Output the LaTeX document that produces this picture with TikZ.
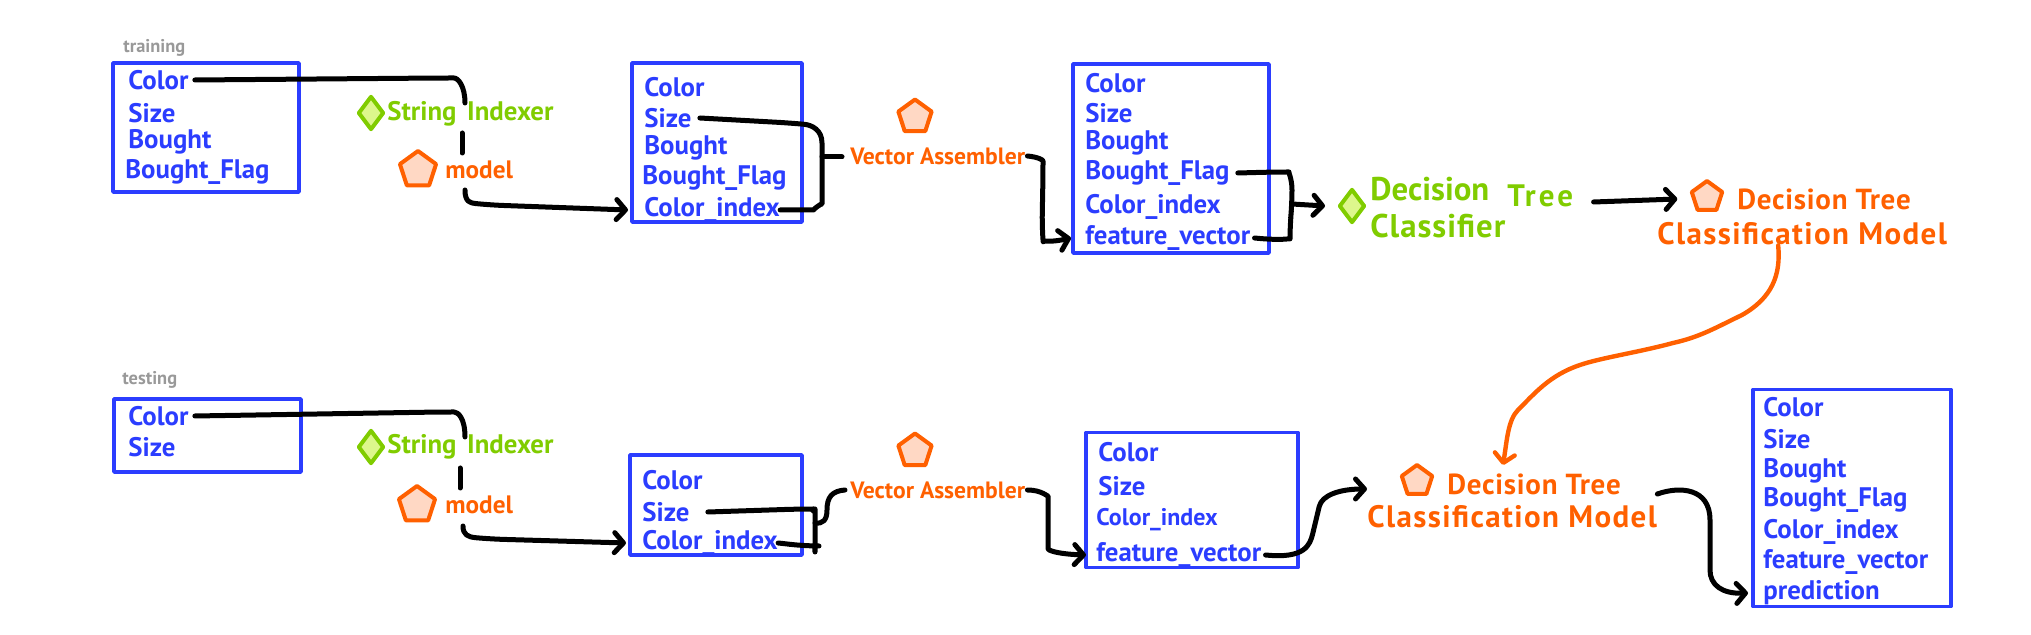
\documentclass[tikz,border=0pt]{standalone}
\usepackage{fontspec}
\setmainfont{PT Sans}
\usetikzlibrary{shapes.geometric,arrows.meta}
\definecolor{hblue}{HTML}{2B3DFF}
\definecolor{hgreen}{HTML}{80CC00}
\definecolor{hgreenf}{HTML}{DDF78C}
\definecolor{horange}{HTML}{FF6000}
\definecolor{horangef}{HTML}{FFD8C4}
\definecolor{hgray}{HTML}{999999}
\tikzset{
  bx/.style 2 args={draw=hblue,line width=1.9pt,rectangle,inner sep=0pt,outer sep=0pt,minimum width=#1*0.5pt,minimum height=#2*0.5pt,line join=round},
  field/.style={text=hblue,font=\bfseries\fontsize{13.4}{14}\selectfont,anchor=west,inner sep=0pt},
  smallfield/.style={text=hblue,font=\bfseries\fontsize{12}{13}\selectfont,anchor=west,inner sep=0pt},
  captext/.style={text=hgray,font=\bfseries\fontsize{9.2}{10}\selectfont,anchor=west,inner sep=0pt},
  gtext/.style={text=hgreen,font=\bfseries\fontsize{13.4}{14}\selectfont,anchor=west,inner sep=0pt},
  otext/.style={text=horange,font=\bfseries\fontsize{12.6}{14}\selectfont,anchor=west,inner sep=0pt},
  vtext/.style={text=horange,font=\bfseries\fontsize{11.8}{14}\selectfont,anchor=west,inner sep=0pt},
  dia/.style={diamond,draw=hgreen,fill=hgreenf,line width=2pt,minimum width=13pt,minimum height=17pt,inner sep=0pt,line join=round},
  pent/.style={regular polygon,regular polygon sides=5,draw=horange,fill=horangef,line width=2pt,minimum size=17.5pt,inner sep=0pt,line join=round},
  dtext/.style={text=horange,anchor=west,inner sep=0pt,align=left},
  conn/.style={draw=black,line width=2.5pt,line cap=round,line join=round,rounded corners=7pt},
  arr/.style={-{Straight Barb[length=4.5pt,width=10pt,line cap=round,line join=round]}},
  oconn/.style={draw=horange,line width=2.2pt,line cap=round},
}
\newcommand{\dtline}{\hspace*{40pt}{\fontsize{14.5}{16}\selectfont\addfontfeatures{LetterSpace=2.5}Decision Tree}}
\newcommand{\cmline}{{\fontsize{15.5}{16}\selectfont\addfontfeatures{LetterSpace=4.5}Classification Model}}
\begin{document}
\begin{tikzpicture}[x=0.5pt,y=-0.5pt]
\path[use as bounding box] (0,0) rectangle (2031,635);

% boxes
\node[bx={186}{129}] (b1) at (206,127.5) {};
\node[bx={170}{159}] (b2) at (717,142.5) {};
\node[bx={196}{189}] (b3) at (1171,158.5) {};
\node[bx={187}{73}] (b4) at (207.5,435.5) {};
\node[bx={172}{100}] (b5) at (716,505) {};
\node[bx={212}{135}] (b6) at (1192,500) {};
\node[bx={198}{217}] (b7) at (1852,498) {};

% captions
\node[captext] (ctrain) at (123,48) {training};
\node[captext] (ctest) at (122,380) {testing};

% box 1
\node[field] (a1) at (128,80) {Color};
\node[field] (a2) at (128,113) {Size};
\node[field] (a3) at (128,142) {Bought};
\node[field] (a4) at (125,172) {Bought\_Flag};
% box 2
\node[field] (d1) at (644,87) {Color};
\node[field] (d2) at (644,118) {Size};
\node[field] (d3) at (644,148) {Bought};
\node[field] (d4) at (642,178) {Bought\_Flag};
\node[field] (d5) at (644,210) {Color\_index};
% box 3
\node[field] (e1) at (1085,83) {Color};
\node[field] (e2) at (1085,113) {Size};
\node[field] (e3) at (1085,143) {Bought};
\node[field] (e4) at (1085,173) {Bought\_Flag};
\node[field] (e5) at (1085,207) {Color\_index};
\node[field] (e6) at (1085,238) {feature\_vector};
% box 4
\node[field] (f1) at (128,416) {Color};
\node[field] (f2) at (128,447) {Size};
% box 5
\node[field] (g1) at (642,480) {Color};
\node[field] (g2) at (642,512) {Size};
\node[field] (g3) at (642,543) {Color\_index};
% box 6
\node[field] (h1) at (1098,452) {Color};
\node[field] (h2) at (1098,486) {Size};
\node[smallfield] (h3) at (1096,520) {Color\_index};
\node[field] (h4) at (1096,555) {feature\_vector};
% box 7
\node[field] (k1) at (1763,407) {Color};
\node[field] (k2) at (1763,439) {Size};
\node[field] (k3) at (1763,471) {Bought};
\node[field] (k4) at (1763,500) {Bought\_Flag};
\node[field] (k5) at (1763,532) {Color\_index};
\node[field] (k6) at (1763,562) {feature\_vector};
\node[field] (k7) at (1763,593) {prediction};

% training stages
\node[dia] (si1) at (371,113) {};
\node[gtext] (sit1) at (387,114) {String\hspace{0.4em}Indexer};
\node[pent,minimum size=19pt] (m1) at (418,170) {};
\node[otext] (mt1) at (445,170) {model};
\node[pent] (va1) at (915,117) {};
\node[vtext] (vat1) at (850,156) {Vector Assembler};
\node[dia] (dt1) at (1352,206) {};
\node[text=hgreen,anchor=west,inner sep=0pt,align=left,font=\bfseries\fontsize{16.4}{18.5}\selectfont] (dtt1) at (1370,208) {Decision\hspace{0.55em}\raisebox{-3pt}{\fontsize{15.5}{18.5}\selectfont\addfontfeatures{LetterSpace=10}Tree}\\{\addfontfeatures{LetterSpace=3}Classifier}};
\node[pent,minimum size=16pt] (dm1) at (1707,197) {};
\node[dtext,font=\bfseries\fontsize{16}{17.5}\selectfont] (dmt1) at (1657,217) {\dtline\\\cmline};

% testing stages
\node[dia] (si2) at (371,447) {};
\node[gtext] (sit2) at (387,447) {String\hspace{0.4em}Indexer};
\node[pent,minimum size=19pt] (m2) at (417,505) {};
\node[otext] (mt2) at (445,505) {model};
\node[pent] (va2) at (915,451) {};
\node[vtext] (vat2) at (850,490) {Vector Assembler};
\node[pent,minimum size=16pt] (dm2) at (1417,481) {};
\node[dtext,font=\bfseries\fontsize{16}{16.5}\selectfont] (dmt2) at (1367,501) {\dtline\\\cmline};

% free connector ends
\coordinate (p1) at (465,103);
\coordinate (p2) at (462,133);
\coordinate (p3) at (462,153);
\coordinate (p4) at (465,190);
\coordinate (q1) at (465,437);
\coordinate (q2) at (460,468);
\coordinate (q3) at (460,488);
\coordinate (q4) at (463,526);
\coordinate (j1) at (822,157);
\coordinate (j2) at (1292,204);
\coordinate (j3) at (815,523);
\coordinate (t1) at (1503,465);

% training connectors
\draw[conn] ([xshift=3pt]a1.east) -- (440,78) .. controls (458,78) and (465,86) .. (p1);
\draw[conn] (p2) -- (p3);
\draw[conn,arr] (p4) .. controls (465,202) and (470,203) .. (490,205) -- ([xshift=-2pt]b2.west |- d5);
\draw[conn] ([xshift=4pt]d2.east) -- (790,123) .. controls (812,125) and (822,130) .. (j1) -- (822,190) .. controls (822,203) and (812,210) .. (800,210) -- (d5.east);
\draw[conn] (j1) -- ([xshift=-4pt]vat1.west |- j1);
\draw[conn,arr] ([xshift=1pt]vat1.east) .. controls (1038,157) and (1043,160) .. (1043,175) -- (1042,228) .. controls (1043,240) and (1048,243) .. ([xshift=-1pt]b3.west |- e6);
\draw[conn] ([xshift=4pt]e4.east) -- (1275,172) .. controls (1288,172) and (1292,178) .. (j2) -- (1290,225) .. controls (1290,238) and (1284,241) .. ([xshift=2pt]e6.east);
\draw[conn,arr] (j2) -- ([xshift=-6pt]dt1.west);
\draw[conn,arr] ([xshift=10pt,yshift=3pt]dtt1.east) -- ([xshift=-7pt,yshift=-1pt]dm1.west);
\draw[oconn,arr] ([xshift=-12pt]dmt1.south) .. controls (1781,275) and (1772,298) .. (1742,315) .. controls (1715,328) and (1700,337) .. (1673,343) .. controls (1640,352) and (1600,358) .. (1580,365) .. controls (1550,375) and (1535,393) .. (1518,410) .. controls (1508,420) and (1507,440) .. (t1);

% testing connectors
\draw[conn] ([xshift=3pt]f1.east) -- (440,412) .. controls (458,412) and (465,418) .. (q1);
\draw[conn] (q2) -- (q3);
\draw[conn,arr] (q4) .. controls (463,535) and (468,537) .. (490,539) -- ([xshift=-2pt]b5.west |- g3);
\draw[conn] ([xshift=9pt]g2.east) -- (800,509) .. controls (810,509) and (815,514) .. (j3) -- (815,538) .. controls (815,543) and (812,546) .. (805,546) -- (g3.east);
\draw[conn,sharp corners] (j3) .. controls (823,524) and (827,520) .. (827,510) .. controls (827,497) and (832,491) .. ([xshift=-2.5pt]vat2.west);
\draw[conn,arr] ([xshift=1pt]vat2.east) .. controls (1042,490) and (1048,497) .. (1048,510) -- (1048,535) .. controls (1048,550) and (1056,554) .. (b6.west |- h4);
\draw[conn,arr] ([xshift=2pt]h4.east) .. controls (1305,559) and (1310,545) .. (1316,520) .. controls (1322,495) and (1340,489) .. ([yshift=6pt]dmt2.west);
\draw[conn,arr,sharp corners] ([yshift=3.5pt]dmt2.east) .. controls (1680,486) and (1710,488) .. (1710,520) -- (1710,570) .. controls (1710,585) and (1722,594) .. ([xshift=-2.5pt]b7.west |- k7);
\end{tikzpicture}
\end{document}
